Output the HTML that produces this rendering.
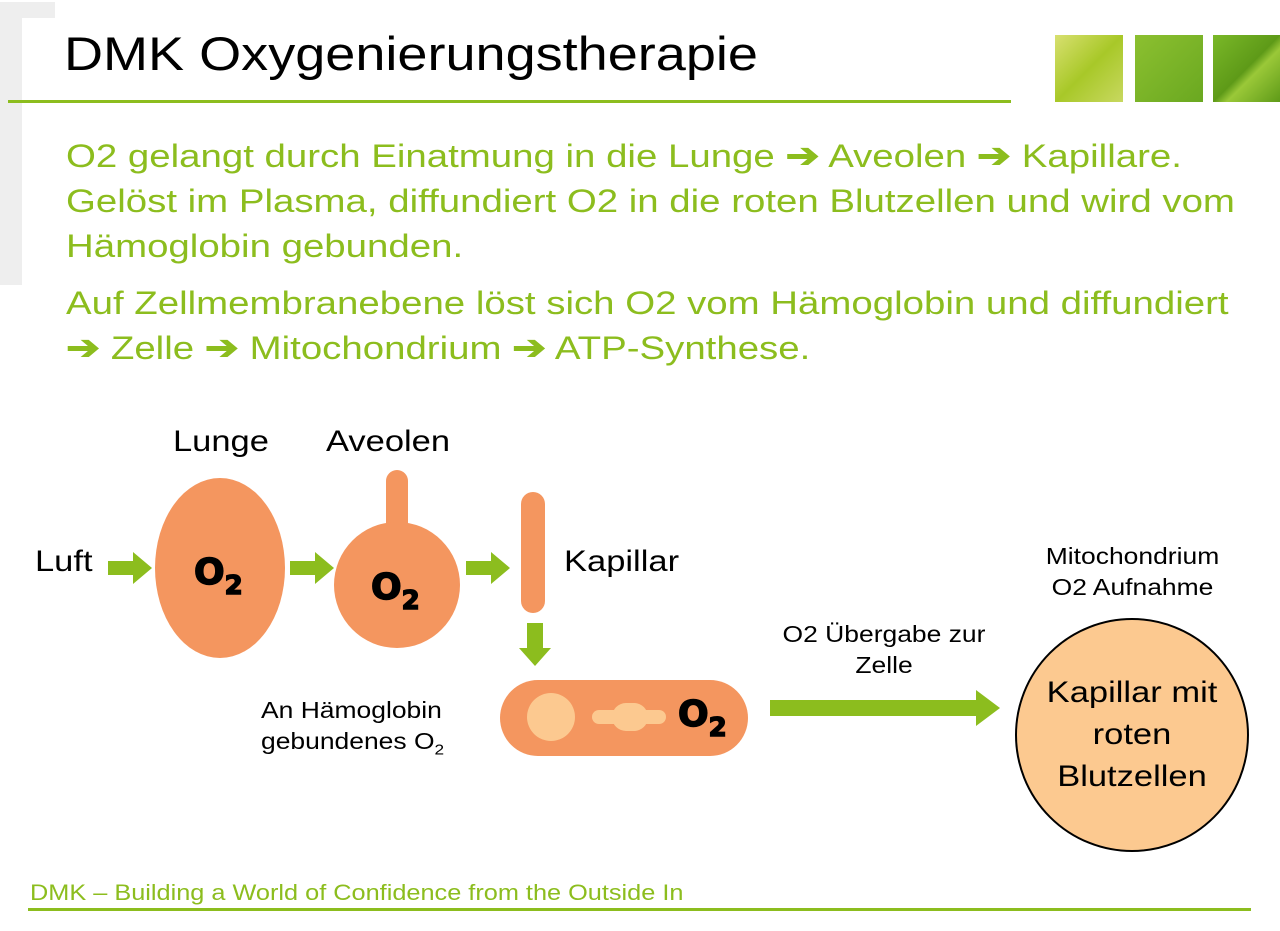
<!DOCTYPE html>
<html><head><meta charset="utf-8"><style>
body{margin:0;width:1280px;height:931px;background:#fff;position:relative;overflow:hidden;font-family:"Liberation Sans",Arial,sans-serif}
.a{position:absolute;white-space:nowrap}
.s{transform:scaleX(1.15);transform-origin:left top}
.c{transform:scaleX(1.15);transform-origin:center top}
.g{color:#8cbd1e}
.ar{font-family:"DejaVu Sans",sans-serif;font-weight:bold;font-size:34px;line-height:30px;-webkit-text-stroke:1px #8cbd1e}
.o{font-family:"DejaVu Sans",sans-serif;font-weight:900;font-size:36px;-webkit-text-stroke:1.5px #000}
.o span{font-size:26px;position:relative;top:10px}
</style></head><body>
<div class="a" style="left:0;top:2px;width:55px;height:16px;background:#eeeeee"></div>
<div class="a" style="left:0;top:2px;width:22px;height:283px;background:#eeeeee"></div>
<div class="a s" style="left:64px;top:26px;font-size:47px;color:#000">DMK Oxygenierungstherapie</div>
<div class="a" style="left:8px;top:100px;width:1003px;height:3px;background:#8cbd1e"></div>
<div class="a" style="left:1055px;top:35px;width:68px;height:67px;background:linear-gradient(135deg,#d8e070,#a8c828 50%,#c8d860)"></div>
<div class="a" style="left:1135px;top:35px;width:68px;height:67px;background:linear-gradient(135deg,#8cc030,#6aa820)"></div>
<div class="a" style="left:1213px;top:35px;width:67px;height:67px;background:linear-gradient(135deg,#7ab828,#5e9a18 50%,#9ac838 60%,#5e9a18)"></div>
<div class="a g" style="left:66px;top:134px;font-size:32px;line-height:45px;transform:scaleX(1.2);transform-origin:left top">O2 gelangt durch Einatmung in die Lunge <span class="ar">➔</span> Aveolen <span class="ar">➔</span> Kapillare.<br>Gelöst im Plasma, diffundiert O2 in die roten Blutzellen und wird vom<br>Hämoglobin gebunden.</div>
<div class="a g" style="left:66px;top:281px;font-size:32px;line-height:45px;transform:scaleX(1.2);transform-origin:left top">Auf Zellmembranebene löst sich O2 vom Hämoglobin und diffundiert<br><span class="ar">➔</span> Zelle <span class="ar">➔</span> Mitochondrium <span class="ar">➔</span> ATP-Synthese.</div>
<svg class="a" style="left:0;top:0" width="1280" height="931">
<g fill="#8cbd1e">
<polygon points="108,561 133,561 133,552 152,568 133,584 133,575 108,575"/>
<polygon points="290,561 315,561 315,552 334,568 315,584 315,575 290,575"/>
<polygon points="466,561 491,561 491,552 510,568 491,584 491,575 466,575"/>
<polygon points="527,623 543,623 543,648 551,648 535,666 519,648 527,648"/>
<polygon points="770,700 976,700 976,690 1000,708 976,726 976,716 770,716"/>
</g>
<g fill="#f4965f">
<ellipse cx="220" cy="568" rx="65" ry="90"/>
<rect x="386" y="470" width="22" height="70" rx="11"/>
<circle cx="397" cy="585" r="63"/>
<rect x="521" y="492" width="24" height="121" rx="12"/>
<rect x="500" y="680" width="248" height="76" rx="38"/>
</g>
<g fill="#fcc990">
<circle cx="551" cy="717" r="24"/>
<rect x="592" y="710" width="74" height="14" rx="7"/>
<rect x="612" y="703" width="36" height="28" rx="14"/>
</g>
<circle cx="1132" cy="735" r="116" fill="#fcc990" stroke="#000" stroke-width="2"/>
</svg>
<div class="a s" style="left:173px;top:425px;font-size:30px">Lunge</div>
<div class="a s" style="left:326px;top:425px;font-size:30px">Aveolen</div>
<div class="a s" style="left:35px;top:545px;font-size:30px">Luft</div>
<div class="a s" style="left:564px;top:545px;font-size:30px">Kapillar</div>
<div class="a o" style="left:194px;top:552px">O<span>2</span></div>
<div class="a o" style="left:371px;top:567px">O<span>2</span></div>
<div class="a o" style="left:678px;top:694px">O<span>2</span></div>
<div class="a s" style="left:261px;top:695px;font-size:23px;line-height:31px">An Hämoglobin<br>gebundenes O<sub style="font-size:15px">2</sub></div>
<div class="a c" style="left:756px;top:619px;width:256px;text-align:center;font-size:23px;line-height:31px">O2 Übergabe zur<br>Zelle</div>
<div class="a c" style="left:1016px;top:541px;width:233px;text-align:center;font-size:23px;line-height:31px">Mitochondrium<br>O2 Aufnahme</div>
<div class="a c" style="left:1016px;top:672px;width:232px;text-align:center;font-size:30px;line-height:42px">Kapillar mit<br>roten<br>Blutzellen</div>
<div class="a g s" style="left:30px;top:880px;font-size:22px">DMK – Building a World of Confidence from the Outside In</div>
<div class="a" style="left:28px;top:908px;width:1223px;height:3px;background:#8cbd1e"></div>
</body></html>
